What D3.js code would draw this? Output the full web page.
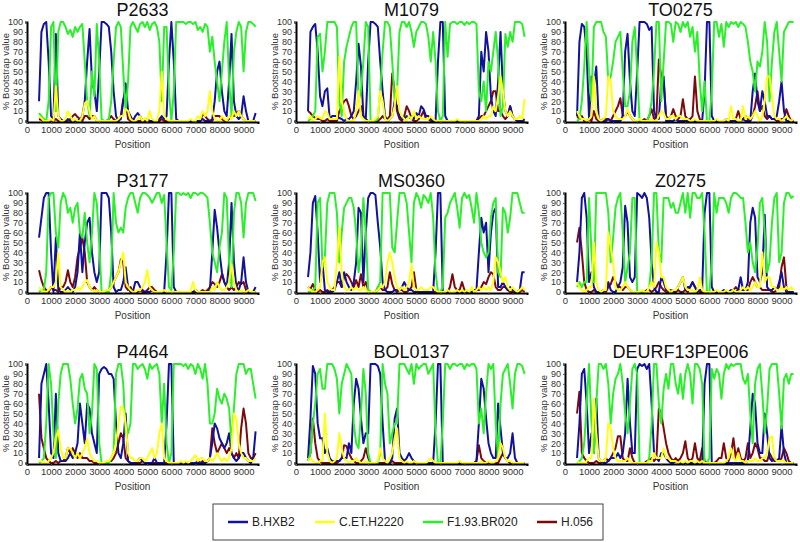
<!DOCTYPE html>
<html><head><meta charset="utf-8">
<script src="https://cdn.jsdelivr.net/npm/d3@7"></script>
<style>body{margin:0;background:#fff}svg{display:block}</style>
</head><body><svg id="c" width="800" height="542"></svg>
<script>
// Window centre positions (bp), step 100
const positions = d3.range(500, 9501, 100);
const seriesNames = ["B.HXB2", "C.ET.H2220", "F1.93.BR020", "H.056"];
const yTicks = [0,10,20,30,40,50,60,70,80,90,100];
const xTicks = [0,1000,2000,3000,4000,5000,6000,7000,8000,9000];

// ---- P2633
const P2633_B = [20,90,98,100,60,5,2,88,5,2, 0,0,2,0,0,0,0,2,5,20, 60,93,40,30,10,50,100,100,98,95, 70,30,5,0,2,20,38,10,5,0, 5,8,5,0,0,2,0,0,0,0, 2,5,2,5,60,100,60,2,0,0, 0,0,0,0,0,0,0,0,2,0, 0,0,2,20,50,60,30,10,5,40, 88,20,5,2,5,25,10,0,0,0, 8];
const P2633_G = [8,5,2,0,20,95,100,10,90,100, 100,95,88,92,85,95,90,95,98,60, 20,5,50,25,98,60,2,0,0,2, 20,60,95,100,95,50,10,40,95,100, 95,90,98,100,95,100,92,98,100,95, 80,20,95,95,30,0,30,100,100,100, 100,98,100,100,98,100,92,95,90,98, 95,70,85,60,40,20,50,80,100,40, 5,70,90,100,95,50,90,100,100,98, 95];
const P2633_C = [5,3,0,0,0,2,0,35,5,0, 0,2,10,5,0,2,0,0,5,18, 20,10,2,5,0,0,0,0,0,0, 0,0,0,2,5,5,12,10,2,0, 0,2,5,0,3,0,10,2,0,0, 10,50,5,2,0,0,0,0,0,0, 0,0,0,2,0,0,5,2,10,5, 10,30,10,2,0,0,5,2,0,5, 2,10,5,10,5,2,0,0,0,0, 0];
const P2633_H = [2,1,0,0,0,0,0,2,0,0, 0,0,0,2,5,7,4,2,0,5, 5,2,5,5,0,0,0,0,0,2, 5,2,0,0,5,22,20,2,0,0, 0,0,0,0,0,0,0,0,0,0, 0,2,0,0,0,0,0,0,0,0, 0,0,0,0,0,0,0,0,7,5, 2,0,0,5,5,5,2,0,0,2, 5,5,8,10,5,2,0,0,0,0, 0];
// ---- M1079
const M1079_B = [10,90,95,98,70,25,15,30,33,2, 5,5,5,3,2,0,2,2,5,10, 40,78,55,5,2,60,100,100,98,95, 60,30,5,0,2,5,20,15,5,2, 2,5,3,5,2,8,5,15,12,5, 5,2,0,0,60,100,100,5,0,0, 0,0,0,0,0,0,0,0,0,0, 0,5,70,50,90,70,25,10,5,40, 90,30,10,5,15,5,2,0,0,0, 2];
const M1079_G = [0,2,5,10,85,88,50,70,100,100, 100,100,95,20,5,60,75,85,95,100, 100,20,30,60,100,95,0,0,0,2, 30,70,100,100,95,60,20,30,90,100, 100,95,100,90,75,90,95,100,100,98, 85,60,90,60,10,0,5,100,65,98, 100,100,98,100,100,97,100,98,100,100, 98,30,20,40,10,60,50,70,90,60, 5,15,88,75,90,80,100,100,100,98, 85];
const M1079_C = [2,5,0,2,5,3,2,10,8,2, 2,2,2,65,20,10,2,0,0,0, 10,30,5,2,0,0,0,0,2,5, 30,20,2,0,2,5,15,35,10,5, 2,0,5,2,10,2,5,3,2,2, 2,5,2,0,0,0,0,0,0,0, 0,0,2,0,0,0,0,0,0,0, 0,0,2,5,2,5,5,15,10,25, 45,30,10,5,10,5,2,2,5,2, 22];
const M1079_H = [10,8,5,3,2,2,0,0,2,0, 0,0,0,10,15,20,22,15,5,2, 5,10,15,5,2,0,0,0,0,0, 2,5,2,2,5,48,30,10,2,0, 5,15,10,2,0,0,2,5,10,2, 2,0,0,0,0,0,0,0,0,0, 0,0,0,0,0,0,0,0,0,0, 0,2,5,5,10,15,20,30,30,10, 10,5,2,5,15,5,2,0,0,0, 0];
// ---- TO0275
const TO0275_B = [5,80,98,95,70,2,45,35,55,2, 0,0,0,2,0,0,0,0,0,5, 70,88,40,10,5,50,100,100,100,98, 92,95,10,2,2,40,45,0,0,0, 0,2,0,0,0,0,0,0,0,0, 0,0,0,30,100,100,5,0,0,0, 0,0,2,0,0,0,0,0,0,2, 0,0,0,30,48,20,10,30,20,5, 5,2,2,5,20,40,10,0,0,0, 0];
const TO0275_G = [0,2,20,55,100,50,20,95,100,100, 100,90,85,40,45,60,80,85,90,50, 15,15,30,80,95,50,0,0,0,0, 5,20,50,100,100,20,60,100,100,98, 80,100,98,90,100,95,100,85,95,70, 90,40,10,40,0,0,30,100,100,85, 98,75,100,95,100,98,100,95,100,98, 95,80,60,50,30,60,55,70,100,80, 20,60,90,100,70,40,90,95,100,100, 100];
const TO0275_C = [10,5,2,2,0,2,5,45,10,2, 0,2,5,45,40,10,5,2,2,2, 5,12,5,2,0,0,2,0,0,0, 0,2,0,0,5,10,8,2,2,5, 5,2,5,5,2,2,2,0,0,2, 0,0,0,0,0,0,0,0,2,0, 0,0,2,0,15,2,2,0,0,15, 2,5,2,5,10,5,0,5,20,45, 45,25,5,2,2,0,2,5,2,0, 2];
const TO0275_H = [5,2,5,0,0,2,0,10,2,0, 0,2,2,2,0,5,10,15,23,5, 5,10,5,2,0,0,0,0,2,0, 5,12,2,5,62,45,40,5,2,5, 12,5,2,5,22,5,2,2,5,45, 10,2,0,0,0,0,0,0,0,0, 0,0,0,0,0,0,2,10,2,2, 5,2,0,5,15,30,10,15,5,2, 5,2,2,0,0,2,2,12,5,0, 0];
// ---- P3177
const P3177_B = [55,75,95,100,100,40,0,55,2,0, 0,2,5,2,0,5,20,60,20,50, 70,75,40,20,10,20,100,100,100,95, 60,5,0,2,2,10,25,5,0,0, 10,10,5,2,0,0,0,2,0,0, 0,0,0,40,100,100,5,0,0,0, 0,0,0,0,0,2,0,0,0,0, 0,2,40,83,65,40,20,10,5,30, 90,30,5,2,10,35,10,0,0,0, 5];
const P3177_G = [0,2,2,20,95,100,100,60,45,90, 100,95,80,85,70,85,90,60,55,80, 50,30,60,100,90,50,0,0,0,0, 20,100,70,60,65,60,85,95,100,100, 90,80,95,100,100,98,95,90,95,100, 100,90,98,50,5,2,40,100,100,98, 100,98,100,95,100,100,98,100,100,98, 95,70,40,30,20,45,60,100,95,30, 5,80,100,100,90,55,90,100,100,100, 92];
const P3177_C = [5,2,0,0,2,5,5,10,40,5, 2,0,2,0,2,2,5,2,5,10, 12,5,2,0,2,0,0,0,2,2, 5,10,15,20,30,40,10,5,2,0, 0,2,2,5,10,22,5,2,0,0, 0,0,2,0,0,0,0,0,0,0, 0,0,0,0,10,2,0,0,0,0, 0,0,5,2,10,5,2,2,5,10, 28,10,2,0,2,0,0,2,0,0, 0];
const P3177_H = [22,12,5,2,0,5,2,2,0,5, 5,10,22,10,5,15,35,45,55,40, 10,5,2,5,2,0,0,0,0,2, 5,10,15,20,33,30,5,2,5,0, 0,0,2,0,0,2,5,5,2,0, 0,0,0,0,0,0,0,0,0,0, 0,0,0,0,0,0,0,0,2,0, 2,5,10,8,5,10,18,10,5,2, 5,2,5,10,8,10,2,0,0,0, 0];
// ---- MS0360
const MS0360_B = [15,40,90,97,60,10,30,2,0,0, 0,2,10,20,5,20,10,5,2,10, 30,85,80,10,60,95,100,100,98,70, 45,10,2,0,0,0,2,2,2,5, 10,5,2,2,0,0,0,0,0,0, 0,0,0,40,100,100,0,0,0,0, 0,0,0,0,0,0,0,0,0,0, 2,40,75,60,70,20,60,80,85,5, 5,10,5,2,5,2,0,0,2,20, 20];
const MS0360_G = [0,0,2,5,90,95,25,35,90,100, 100,100,80,30,60,85,90,95,95,85, 60,20,40,95,60,2,0,0,0,5, 10,100,100,100,100,45,40,70,100,100, 100,90,60,30,90,100,95,85,98,95, 90,100,75,20,0,0,5,75,80,90, 95,100,85,65,95,100,95,98,85,70, 100,80,50,40,35,40,75,90,95,20, 15,85,80,60,75,100,100,100,90,80, 80];
const MS0360_C = [5,2,0,0,2,5,30,35,10,5, 2,2,30,65,20,5,2,2,5,2, 5,2,2,5,2,0,0,0,0,2, 5,5,10,30,40,30,15,5,2,5, 2,5,10,28,5,2,2,5,2,2, 2,5,5,2,0,0,0,0,2,0, 0,0,2,0,2,0,2,0,5,0, 2,5,2,5,2,5,2,10,35,30, 20,10,15,5,2,5,2,0,2,5, 2];
const MS0360_H = [5,3,8,2,0,2,0,0,2,0, 2,5,10,10,5,15,18,15,10,5, 12,5,18,5,10,2,0,0,0,2, 5,2,2,5,20,8,2,0,2,2, 0,0,2,5,20,2,0,0,0,0, 0,0,0,0,0,0,0,0,0,5, 18,5,2,2,10,2,0,0,0,2, 2,2,5,10,8,15,20,18,5,2, 2,5,5,2,0,0,0,0,0,2, 0];
// ---- Z0275
const Z0275_B = [10,40,95,100,75,10,20,5,0,0, 0,0,2,10,2,0,0,5,10,25, 87,70,15,10,15,100,98,95,100,95, 75,30,5,0,0,15,10,2,2,0, 2,0,5,10,15,2,5,5,10,5, 0,2,2,80,100,100,5,0,0,0, 0,2,0,0,2,0,0,2,15,2, 2,10,70,85,75,15,10,20,78,5, 2,2,5,2,10,20,5,0,0,0, 0];
const Z0275_G = [5,10,5,10,10,95,40,10,100,100, 100,100,100,80,30,55,85,95,100,60, 10,25,40,95,95,0,0,0,0,0, 5,30,100,100,40,30,95,95,95,85, 90,80,80,90,100,80,100,75,100,100, 95,95,100,60,0,0,30,100,80,95, 95,95,90,80,95,100,100,98,95,95, 70,40,50,30,20,45,90,95,60,20, 30,70,95,100,30,40,90,100,100,95, 97];
const Z0275_C = [10,5,2,0,2,5,5,50,10,2, 0,2,2,60,45,30,5,2,2,5, 10,5,2,0,0,0,0,2,0,0, 5,10,5,50,40,15,15,5,2,0, 2,2,5,10,15,5,2,2,2,0, 2,15,2,0,0,0,0,0,2,0, 0,0,2,0,0,2,0,0,2,5, 2,5,2,5,10,5,5,40,10,15, 15,5,5,2,2,5,2,5,2,5, 2];
const Z0275_H = [50,65,40,10,2,0,0,2,0,0, 0,2,0,5,8,15,10,5,5,2, 5,5,2,0,0,0,0,0,0,2, 2,0,2,5,10,5,2,0,0,2, 0,0,2,0,0,2,0,5,10,5, 2,0,0,0,0,0,0,0,0,0, 0,0,0,0,0,2,5,2,2,2, 2,2,10,15,10,5,5,2,2,2, 2,0,0,2,5,25,35,5,0,0, 0];
// ---- P4464
const P4464_B = [5,80,90,100,60,10,5,70,10,2, 2,2,5,10,5,10,20,60,40,20, 60,55,30,20,10,90,95,97,95,90, 90,85,40,10,5,20,50,2,0,0, 0,2,5,2,0,0,0,0,5,0, 0,0,0,40,100,100,0,0,0,0, 0,0,0,0,0,0,0,0,0,0, 2,5,20,40,35,25,20,15,20,30, 10,5,2,5,10,10,5,2,0,5, 32];
const P4464_G = [0,2,5,40,100,80,30,5,60,90, 100,100,100,85,60,40,55,85,90,75, 70,30,50,100,95,20,0,0,0,0, 5,10,90,100,100,80,30,30,40,100, 100,95,98,100,95,85,100,95,98,100, 90,40,80,20,0,10,100,100,100,100, 98,100,95,100,98,90,100,95,85,100, 80,40,40,50,75,65,60,70,65,55, 20,55,90,100,100,100,90,95,95,80, 65];
const P4464_C = [2,2,0,0,2,5,10,25,33,15, 5,5,15,15,10,5,10,5,10,15, 25,10,5,2,2,0,0,0,2,2, 5,10,20,40,57,55,40,10,5,5, 2,2,5,5,2,5,10,15,5,10, 30,40,5,2,0,0,0,0,0,2, 0,2,0,2,5,8,2,5,5,2, 2,5,2,5,10,5,2,5,2,5, 15,50,45,20,10,5,5,2,2,2, 5];
const P4464_H = [70,25,15,5,2,0,0,2,0,2, 2,5,15,10,15,10,5,10,5,5, 5,2,2,0,0,0,0,0,0,2, 2,5,10,20,30,25,5,2,0,0, 0,0,0,2,0,0,0,0,0,0, 0,0,0,0,0,0,0,0,0,0, 0,0,0,0,0,0,2,0,2,0, 2,5,35,20,10,15,20,15,10,15, 10,5,10,5,35,55,40,10,5,5, 10];
// ---- BOL0137
const BOL0137_B = [5,45,98,90,40,25,25,10,15,5, 2,2,2,2,5,5,5,20,10,60, 85,75,45,20,30,30,100,100,100,98, 90,40,2,0,0,5,45,55,10,5, 2,5,10,5,2,0,0,0,0,0, 0,0,0,40,100,100,0,0,0,0, 0,0,0,0,0,0,0,0,0,0, 2,40,85,75,45,20,10,5,5,60, 35,10,5,5,10,30,5,0,0,0, 0];
const BOL0137_G = [2,10,40,60,90,95,75,75,100,100, 100,95,85,50,80,90,100,95,90,40, 20,15,50,95,70,10,0,0,0,0, 10,100,80,70,20,30,40,40,100,100, 100,95,90,100,80,100,95,98,100,100, 90,95,100,30,0,0,40,100,100,95, 100,100,98,100,100,95,100,98,100,100, 95,40,55,30,70,100,95,100,40,5, 60,90,95,100,80,55,90,100,100,98, 90];
const BOL0137_C = [2,5,2,0,0,2,2,50,10,2, 0,2,5,30,15,5,2,0,2,2, 5,2,0,0,2,0,0,0,0,2, 15,5,2,0,5,10,25,35,5,2, 0,2,0,0,2,0,0,0,0,0, 2,5,2,0,0,0,0,0,0,0, 0,0,0,2,0,0,0,0,0,0, 0,0,2,0,0,2,0,0,2,5, 20,15,5,2,2,0,0,0,0,0, 0];
const BOL0137_H = [2,10,45,20,5,2,0,0,0,0, 0,0,0,2,5,18,17,10,5,2, 0,0,2,5,15,5,0,0,0,0, 0,0,0,0,0,2,0,0,0,0, 0,0,0,0,0,0,0,0,0,0, 0,0,0,0,0,0,0,0,0,0, 0,0,0,0,0,0,0,0,0,0, 2,18,5,2,0,0,0,0,0,0, 5,10,5,2,0,0,0,0,0,0, 0];
// ---- DEURF13PE006
const DEURF_B = [5,40,90,95,60,10,30,10,65,5, 2,0,0,2,5,5,5,10,5,10, 30,85,40,10,10,95,100,98,100,95, 100,60,10,5,2,10,10,5,2,0, 0,2,0,0,0,0,0,0,0,0, 0,0,0,80,100,100,0,0,0,0, 0,0,0,0,0,0,0,0,0,0, 0,2,35,70,60,20,10,10,50,30, 5,2,5,2,5,38,10,0,0,0, 0];
const DEURF_G = [0,2,5,20,60,100,40,10,60,100, 100,95,100,80,40,70,85,90,100,80, 50,30,60,95,100,90,0,0,0,0, 5,40,100,100,60,40,75,90,75,100, 100,80,70,90,65,90,100,90,60,100, 100,95,80,0,0,5,95,85,95,90, 65,90,100,95,100,98,100,100,100,85, 80,90,50,20,80,95,100,70,30,55, 95,100,100,100,70,35,85,90,80,90, 90];
const DEURF_C = [2,0,0,0,2,5,5,65,30,5, 2,2,5,40,35,15,5,2,2,2, 2,5,2,0,0,0,0,0,0,0, 2,2,10,5,5,5,15,5,5,2, 2,2,0,2,0,2,0,2,2,0, 2,0,2,0,0,0,0,0,0,0, 0,0,2,5,15,5,2,10,2,2, 0,2,2,2,5,2,2,5,5,10, 25,27,5,2,2,2,2,0,0,0, 0];
const DEURF_H = [50,72,10,5,2,0,0,0,2,0, 0,2,5,2,5,10,15,27,27,5, 2,2,15,5,0,0,0,0,0,2, 2,5,2,5,55,50,35,20,10,5, 2,5,2,5,10,22,5,2,5,20, 5,2,15,2,0,0,0,0,2,5, 5,20,5,2,10,25,5,15,5,2, 5,20,5,10,20,15,5,5,2,2, 10,5,2,2,2,5,15,10,2,0, 0];

const panelTitles = ["P2633","M1079","TO0275","P3177","MS0360","Z0275","P4464","BOL0137","DEURF13PE006"];
const panelData = [
  [P2633_B,P2633_C,P2633_G,P2633_H],
  [M1079_B,M1079_C,M1079_G,M1079_H],
  [TO0275_B,TO0275_C,TO0275_G,TO0275_H],
  [P3177_B,P3177_C,P3177_G,P3177_H],
  [MS0360_B,MS0360_C,MS0360_G,MS0360_H],
  [Z0275_B,Z0275_C,Z0275_G,Z0275_H],
  [P4464_B,P4464_C,P4464_G,P4464_H],
  [BOL0137_B,BOL0137_C,BOL0137_G,BOL0137_H],
  [DEURF_B,DEURF_C,DEURF_G,DEURF_H]
];

const colors = ["#12129c", "#ffff14", "#2af02a", "#7d0a0a"];
const drawOrder = [3, 0, 2, 1];

const svg = d3.select("#c");
const font = "Liberation Sans, Arial, sans-serif";
const colX = [27, 296, 565];
const rowTop = [22, 193, 364];
const plotW = 231, plotH = 99;

panelTitles.forEach((title, k) => {
  const col = k % 3, row = Math.floor(k / 3);
  const x0 = colX[col], top = rowTop[row];
  const x = d3.scaleLinear().domain([0, 9600]).range([x0, x0 + plotW]);
  const y = d3.scaleLinear().domain([0, 100]).range([top + plotH, top]);
  const g = svg.append("g");

  g.append("text").attr("x", x0 + plotW/2).attr("y", top - 6)
    .attr("text-anchor","middle").attr("font-family", font).attr("font-size", 18)
    .attr("fill","#111").text(title);

  const line = d3.line().x((d,i) => x(positions[i])).y(d => y(d));
  drawOrder.forEach(s => {
    g.append("path").datum(panelData[k][s]).attr("d", line)
      .attr("fill","none").attr("stroke", colors[s]).attr("stroke-width", 2)
      .attr("stroke-linejoin","round");
  });

  const ya = g.append("g").attr("transform", `translate(${x0},0)`)
    .call(d3.axisLeft(y).tickValues(yTicks).tickSize(2).tickPadding(2));
  ya.select(".domain").attr("stroke","#000").attr("stroke-width",2);
  ya.selectAll("text").attr("font-family", font).attr("font-size", 9).attr("fill","#333");
  ya.selectAll(".tick line").attr("stroke","#555");

  const xa = g.append("g").attr("transform", `translate(0,${top + plotH + 1})`)
    .call(d3.axisBottom(x).tickValues(xTicks).tickSize(2).tickPadding(2).tickFormat(d3.format("d")));
  xa.select(".domain").attr("stroke","#000").attr("stroke-width",2);
  xa.selectAll("text").attr("font-family", font).attr("font-size", 9.5).attr("fill","#333");
  xa.selectAll(".tick line").attr("stroke","#555");

  g.append("text").attr("x", x0 + plotW/2 - 10).attr("y", top + plotH + 27)
    .attr("text-anchor","middle").attr("font-family", font).attr("font-size", 10)
    .attr("fill","#333").text("Position");

  g.append("text").attr("transform", `translate(${x0 - 18},${top + plotH/2}) rotate(-90)`)
    .attr("text-anchor","middle").attr("font-family", font).attr("font-size", 9.5)
    .attr("fill","#333").text("% Bootstrap value");
});

const lg = svg.append("g");
lg.append("rect").attr("x", 213).attr("y", 504).attr("width", 390).attr("height", 36)
  .attr("fill","#fff").attr("stroke","#444").attr("stroke-width",1);
const legX = [228, 315, 423, 537];
seriesNames.forEach((n, i) => {
  lg.append("line").attr("x1", legX[i]).attr("x2", legX[i] + 20).attr("y1", 522).attr("y2", 522)
    .attr("stroke", colors[i]).attr("stroke-width", 2.5);
  lg.append("text").attr("x", legX[i] + 24).attr("y", 526).attr("font-family", font)
    .attr("font-size", 12).attr("fill","#222").text(n);
});
</script></body></html>
